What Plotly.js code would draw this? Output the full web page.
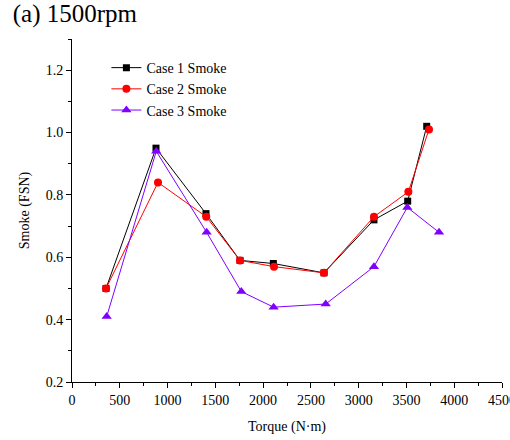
<!DOCTYPE html>
<html>
<head>
<script src="https://cdn.plot.ly/plotly-3.0.1.min.js"></script>
<style>html,body{margin:0;padding:0;background:#fff;}#chart{width:510px;height:440px;}</style>
</head>
<body>
<div id="chart"></div>
<script>
const case1Torque = [356, 879, 1402, 1758, 2107, 2637, 3160, 3513, 3712];
const case1Smoke  = [0.50, 0.95, 0.74, 0.59, 0.58, 0.55, 0.72, 0.78, 1.02];
const case2Torque = [356, 900, 1405, 1758, 2114, 2637, 3160, 3520, 3736];
const case2Smoke  = [0.50, 0.84, 0.73, 0.59, 0.57, 0.55, 0.73, 0.81, 1.01];
const case3Torque = [363, 882, 1409, 1772, 2110, 2655, 3160, 3509, 3841];
const case3Smoke  = [0.41, 0.94, 0.68, 0.49, 0.44, 0.45, 0.57, 0.76, 0.68];
const seriesNames = ['Case 1 Smoke', 'Case 2 Smoke', 'Case 3 Smoke'];

const font = 'Liberation Serif';
const traces = [
  {x: case1Torque, y: case1Smoke, name: seriesNames[0], mode: 'lines+markers',
   line: {color: '#000000', width: 1}, marker: {symbol: 'square', size: 7, color: '#000000'}},
  {x: case2Torque, y: case2Smoke, name: seriesNames[1], mode: 'lines+markers',
   line: {color: '#ff0000', width: 1}, marker: {symbol: 'circle', size: 8, color: '#ff0000'}},
  {x: case3Torque, y: case3Smoke, name: seriesNames[2], mode: 'lines+markers',
   line: {color: '#8000ff', width: 1}, marker: {symbol: 'triangle-up', size: 9, color: '#8000ff'}}
];
const layout = {
  width: 510, height: 440,
  margin: {l: 72, r: 8, t: 39, b: 58},
  paper_bgcolor: '#fff', plot_bgcolor: '#fff',
  font: {family: font, color: '#000', size: 14},
  title: {text: '(a) 1500rpm', x: 0.025, xanchor: 'left', y: 0.99, yanchor: 'top',
          font: {family: font, size: 25, color: '#000'}},
  xaxis: {range: [0, 4500], tick0: 0, dtick: 500, ticks: 'outside', ticklen: 5, tickwidth: 1,
          tickcolor: '#000', ticklabeloverflow: 'allow',
          showline: true, linecolor: '#000', linewidth: 1, showgrid: false, zeroline: false,
          tickfont: {family: font, size: 14, color: '#000'},
          minor: {dtick: 250, ticks: 'outside', ticklen: 3, tickcolor: '#000', showgrid: false},
          title: {text: 'Torque (N·m)', font: {family: font, size: 14, color: '#000'}, standoff: 14}},
  yaxis: {range: [0.2, 1.3], tick0: 0.2, dtick: 0.2, ticks: 'outside', ticklen: 5, tickwidth: 1,
          tickcolor: '#000', tickformat: '.1f',
          showline: true, linecolor: '#000', linewidth: 1, showgrid: false, zeroline: false,
          tickfont: {family: font, size: 14, color: '#000'},
          minor: {dtick: 0.1, ticks: 'outside', ticklen: 3, tickcolor: '#000', showgrid: false},
          title: {text: 'Smoke (FSN)', font: {family: font, size: 14, color: '#000'}, standoff: 12}},
  legend: {x: 0.08, y: 0.962, xanchor: 'left', yanchor: 'top', bgcolor: 'rgba(0,0,0,0)',
           font: {family: font, size: 14, color: '#000'}, tracegroupgap: 0, itemwidth: 30},
  showlegend: true
};
Plotly.newPlot('chart', traces, layout, {displayModeBar: false, staticPlot: true});
</script>
</body>
</html>
